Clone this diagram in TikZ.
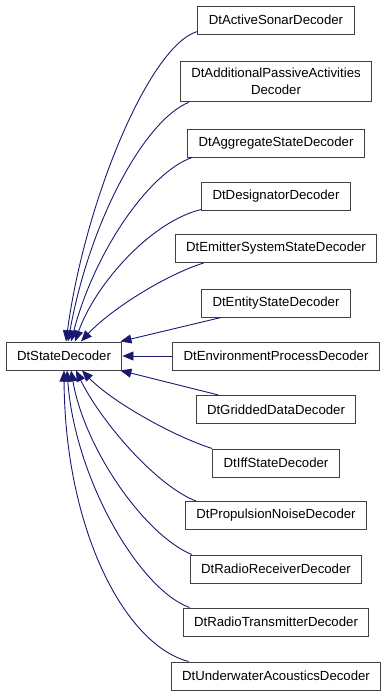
\documentclass[tikz,border=0pt]{standalone}
\usepackage{fontspec}
\setmainfont{Liberation Sans}
\usetikzlibrary{arrows.meta}
\definecolor{edgeblue}{HTML}{191970}
\definecolor{boxgray}{HTML}{404040}
\tikzset{
class node/.style={draw=boxgray, line width=1pt, fill=white, inner xsep=11pt, inner ysep=7pt,
  minimum height=28pt, align=center, font=\fontsize{13.2}{17}\selectfont},
inherit edge/.style={edgeblue, line width=0.9pt, -{Triangle[length=11pt,width=9pt]}},
}
\begin{document}
\begin{tikzpicture}[x=1pt,y=-1pt]
        \useasboundingbox (0,0) rectangle (387,696);
        \node[class node] (sd) at (64,356) {DtStateDecoder};
        \foreach \n/\y/\t in {as/20/DtActiveSonarDecoder,ap/81.5/{DtAdditionalPassiveActivities\\Decoder},
            ag/143/DtAggregateStateDecoder,dg/196/DtDesignatorDecoder,em/248.5/DtEmitterSystemStateDecoder,
            es/303/DtEntityStateDecoder,ep/356/DtEnvironmentProcessDecoder,gd/409.5/DtGriddedDataDecoder,
            iff/463/DtIffStateDecoder,pn/515.5/DtPropulsionNoiseDecoder,rr/569/DtRadioReceiverDecoder,
            rt/622/DtRadioTransmitterDecoder,ua/676/DtUnderwaterAcousticsDecoder}  {
            \node[class node] (\n) at (276,\y) {\t};
        }
        \draw[inherit edge] ([yshift=3pt]as.south west) .. controls (150,45) and (85,200) .. ([xshift=2pt]sd.north);
        \draw[inherit edge] ([xshift=9pt]ap.south west) .. controls (145,120) and (90,220) .. ([xshift=4pt]sd.north);
        \draw[inherit edge] ([xshift=5pt]ag.south west) .. controls (150,172) and (95,250) .. ([xshift=7pt]sd.north);
        \draw[inherit edge] ([yshift=1pt]dg.south west) .. controls (150,222) and (95,285) .. ([xshift=11pt]sd.north);
        \draw[inherit edge] ([xshift=29pt]em.south west) .. controls (165,275) and (110,310) .. ([xshift=17pt]sd.north);
        \draw[inherit edge] ([xshift=20pt]es.south west) -- ([xshift=-2pt]sd.north east);
        \draw[inherit edge] (ep.west) -- (sd.east);
        \draw[inherit edge] ([xshift=23pt]gd.north west) -- ([xshift=-2pt]sd.south east);
        \draw[inherit edge] (iff.north west) .. controls (170,435) and (110,400) .. ([xshift=18pt]sd.south);
        \draw[inherit edge] ([xshift=11pt]pn.north west) .. controls (155,485) and (100,420) .. ([xshift=12pt]sd.south);
        \draw[inherit edge] ([xshift=2pt]rr.north west) .. controls (145,535) and (85,450) .. ([xshift=7pt]sd.south);
        \draw[inherit edge] ([xshift=7pt]rt.north west) .. controls (140,590) and (75,480) .. ([xshift=3pt]sd.south);
        \draw[inherit edge] ([xshift=18pt]ua.north west) .. controls (125,645) and (65,530) .. (sd.south);
    \end{tikzpicture}
\end{document}
